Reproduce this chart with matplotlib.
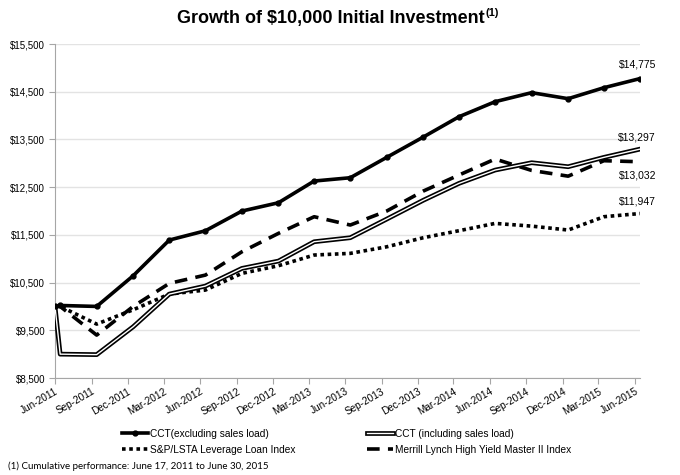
import matplotlib
matplotlib.use("Agg")
import matplotlib.pyplot as plt
import matplotlib.dates as mdates
import matplotlib.patheffects as pe
from matplotlib.ticker import FuncFormatter, FixedLocator
import datetime as dt

dates = ['2011-06-17', '2011-06-30', '2011-09-30', '2011-12-31', '2012-03-31', '2012-06-30',
         '2012-09-30', '2012-12-31', '2013-03-31', '2013-06-30', '2013-09-30', '2013-12-31',
         '2014-03-31', '2014-06-30', '2014-09-30', '2014-12-31', '2015-03-31', '2015-06-30']
cct_excl = [10000, 10020, 10000, 10643, 11391, 11586, 11999, 12173, 12628, 12697, 13125, 13550,
            13976, 14291, 14480, 14354, 14584, 14775]
cct_incl = [10000, 9000, 8990, 9574, 10259, 10427, 10797, 10951, 11356, 11440, 11831, 12225,
            12579, 12858, 13012, 12928, 13124, 13297]
sp_lsta = [10000, 10000, 9630, 9930, 10259, 10343, 10693, 10853, 11077, 11112, 11250, 11440,
           11587, 11740, 11683, 11601, 11880, 11947]
ml_hy = [10000, 10000, 9399, 10000, 10483, 10657, 11146, 11531, 11880, 11706, 12000, 12418,
         12754, 13089, 12850, 12730, 13054, 13032]
tick_labels = ['Jun-2011', 'Sep-2011', 'Dec-2011', 'Mar-2012', 'Jun-2012', 'Sep-2012', 'Dec-2012',
               'Mar-2013', 'Jun-2013', 'Sep-2013', 'Dec-2013', 'Mar-2014', 'Jun-2014', 'Sep-2014',
               'Dec-2014', 'Mar-2015', 'Jun-2015']
y_ticks = [8500, 9500, 10500, 11500, 12500, 13500, 14500, 15500]
end_labels = ['$14,775', '$13,297', '$13,032', '$11,947']

plt.rcParams['font.family'] = ['Liberation Sans Narrow', 'Liberation Sans', 'DejaVu Sans']

x = [mdates.date2num(dt.datetime.strptime(d, '%Y-%m-%d')) for d in dates]
# quarterly ticks on the 17th
tick_x = []
for i in range(17):
    m = 6 + 3 * i
    yr = 2011 + (m - 1) // 12
    mo = (m - 1) % 12 + 1
    tick_x.append(mdates.date2num(dt.datetime(yr, mo, 17)))

fig = plt.figure(figsize=(6.8, 4.75), dpi=100)
ax = fig.add_axes([55/680, 1-378/475, 585/680, 334/475])

lw = 2.6
ax.plot(x, sp_lsta, color='black', lw=lw, linestyle=(0, (1, 1)), dash_capstyle='butt',
        label='S&P/LSTA Leverage Loan Index', zorder=3)
ax.plot(x, ml_hy, color='black', lw=lw, linestyle=(0, (3.5, 2.3)), dash_capstyle='butt',
        label='Merrill Lynch High Yield Master II Index', zorder=3)
ax.plot(x, cct_incl, color='white', lw=1.0, label='CCT (including sales load)', zorder=4,
        path_effects=[pe.Stroke(linewidth=3.4, foreground='black'), pe.Normal()])
ax.plot(x, cct_excl, color='black', lw=lw, marker='o', markersize=3.5,
        label='CCT(excluding sales load)', zorder=5)

ax.set_xlim(x[0], x[-1])
ax.set_ylim(8500, 15500)
ax.set_yticks(y_ticks)
ax.yaxis.set_major_formatter(FuncFormatter(lambda v, p: '${:,.0f}'.format(v)))
ax.xaxis.set_major_locator(FixedLocator(tick_x))
ax.set_xticklabels(tick_labels, rotation=30, ha='right', rotation_mode='anchor', fontsize=7.2,
                   family=['Liberation Sans', 'DejaVu Sans'])
for t in ax.get_yticklabels():
    t.set_fontsize(7.0)
    t.set_family(['Liberation Sans', 'DejaVu Sans'])
ax.grid(axis='y', color='#e3e3e3', lw=1)
ax.set_axisbelow(True)
for s in ['top', 'right']:
    ax.spines[s].set_visible(False)
ax.spines['left'].set_color('#a6a6a6')
ax.spines['bottom'].set_color('#a6a6a6')
ax.tick_params(axis='both', colors='#a6a6a6', length=4, width=0.8, labelcolor='black')
ax.tick_params(axis='x', pad=2)
ax.tick_params(axis='y', pad=3)

# end labels
ann_font = dict(fontsize=7.5, family=['Liberation Sans', 'DejaVu Sans'], ha='center')
ax.annotate(end_labels[0], (x[-1], cct_excl[-1]), xytext=(-2, 6.5), textcoords='offset points',
            va='bottom', annotation_clip=False, **ann_font)
ax.annotate(end_labels[1], (x[-1], cct_incl[-1]), xytext=(-2, 5), textcoords='offset points',
            va='bottom', annotation_clip=False, **ann_font)
ax.annotate(end_labels[2], (x[-1], ml_hy[-1]), xytext=(-2, -6.5), textcoords='offset points',
            va='top', annotation_clip=False, **ann_font)
ax.annotate(end_labels[3], (x[-1], sp_lsta[-1]), xytext=(-2, 5), textcoords='offset points',
            va='bottom', annotation_clip=False, **ann_font)

# legends
h, l = ax.get_legend_handles_labels()
hd = dict(zip(l, h))
leg_kw = dict(frameon=False, fontsize=7.3, handlelength=2.6, handletextpad=0.2, borderpad=0,
              borderaxespad=0, labelspacing=0.55, loc='upper left')
leg1 = fig.legend([hd['CCT(excluding sales load)'], hd['S&P/LSTA Leverage Loan Index']],
                  ['CCT(excluding sales load)', 'S&P/LSTA Leverage Loan Index'],
                  bbox_to_anchor=(122/680, 1-429/475), **leg_kw)
leg2 = fig.legend([hd['CCT (including sales load)'], hd['Merrill Lynch High Yield Master II Index']],
                  ['CCT (including sales load)', 'Merrill Lynch High Yield Master II Index'],
                  bbox_to_anchor=(367/680, 1-429/475), **leg_kw)

# title
title = fig.text(331/680, 1-18/475, 'Growth of $10,000 Initial Investment', ha='center', va='center',
                 fontsize=13, fontweight='bold')
fig.canvas.draw()
bb = title.get_window_extent()
fig.text(bb.x1/680 + 0.001, 1-13/475, '(1)', ha='left', va='center', fontsize=8, fontweight='bold')

fig.text(8/680, 1-466/475, '(1) Cumulative performance: June 17, 2011 to June 30, 2015',
         ha='left', va='center', fontsize=7.0, family=['Lato', 'DejaVu Sans'])

fig.savefig('out.png', dpi=100)
